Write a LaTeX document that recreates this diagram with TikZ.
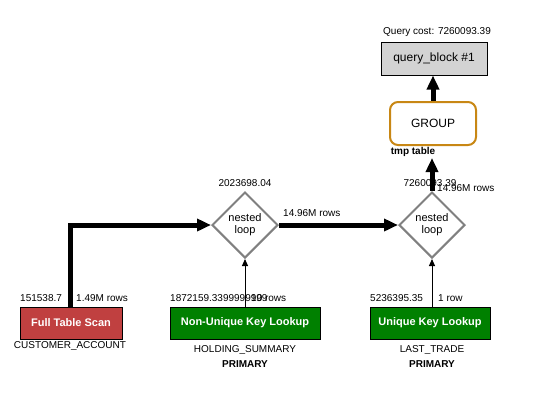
\documentclass[tikz,border=0pt]{standalone}
\usepackage{fontspec}
\setmainfont{Liberation Sans}
\usetikzlibrary{arrows.meta,shapes.geometric}
\definecolor{ftsred}{RGB}{192,64,64}
\definecolor{lkgreen}{RGB}{0,128,0}
\definecolor{qbgray}{RGB}{211,211,211}
\definecolor{grporange}{RGB}{200,135,20}
\definecolor{nlgray}{RGB}{128,128,128}
\tikzset{
  lbl/.style={font=\fontsize{10}{12}\selectfont, inner sep=0pt},
  opbox/.style={draw=black, line width=1pt, minimum height=32pt, text=white, font=\fontsize{11}{13}\selectfont\bfseries, inner sep=0pt},
  nlbox/.style={diamond, draw=nlgray, line width=2pt, fill=white, minimum width=66pt, minimum height=66pt, inner sep=0pt, align=center, font=\fontsize{11}{12}\selectfont},
  thickarr/.style={line width=5pt, -{Triangle[length=14pt,width=12pt]}},
  thinarr/.style={line width=1pt, -{Triangle[length=7pt,width=6pt]}},
}
\begin{document}
\begin{tikzpicture}[x=1pt,y=-1pt]
\useasboundingbox (0,0) rectangle (535,416);
% top
\node[lbl] (qcost) at (437,32) {Query cost: 7260093.39};
\node[draw=black, line width=1pt, fill=qbgray, minimum width=106pt, minimum height=33pt, inner sep=0pt, font=\fontsize{12}{14}\selectfont] (qb) at (434,58.5) {query\_block \#1};
\node[draw=grporange, line width=2pt, rounded corners=8pt, fill=white, minimum width=86pt, minimum height=43pt, inner sep=0pt, font=\fontsize{12}{14}\selectfont] (grp) at (433,123.5) {GROUP};
\node[lbl, font=\fontsize{10}{12}\selectfont\bfseries, anchor=base] (tmp) at (413,154) {tmp table};
\coordinate (tmpend) at (432,158);
% nested loops
\node[nlbox] (nl1) at (245,225) {nested\\loop};
\node[nlbox] (nl2) at (432,225) {nested\\loop};
\node[lbl] (c1) at (245,183) {2023698.04};
% bottom boxes
\node[opbox, fill=ftsred, minimum width=102pt] (fts) at (71,323) {Full Table Scan};
\node[opbox, fill=lkgreen, minimum width=150pt] (nuk) at (245,323) {Non-Unique Key Lookup};
\node[opbox, fill=lkgreen, minimum width=120pt] (uk) at (430,323) {Unique Key Lookup};
\node[lbl] (t1) at (70,346) {CUSTOMER\_ACCOUNT};
\node[lbl] (t2) at (245,350) {HOLDING\_SUMMARY};
\node[lbl, font=\fontsize{10}{12}\selectfont\bfseries] (p2) at (245,364) {PRIMARY};
\node[lbl] (t3) at (432,350) {LAST\_TRADE};
\node[lbl, font=\fontsize{10}{12}\selectfont\bfseries] (p3) at (432,364) {PRIMARY};
% connectors
\coordinate (bend) at (70,225);
\draw[thickarr] (fts.north -| bend) -- (bend) -- (nl1.west);
\draw[thickarr] (nl1.east) -- (nl2.west);
\draw[thickarr] (nl2.north) -- (tmpend);
\draw[thickarr] (grp.north) -- (qb.south -| grp.north);
\draw[thinarr] (nuk.north) -- (nl1.south);
\draw[thinarr] (uk.north -| nl2.south) -- (nl2.south);
% labels
\node[lbl, anchor=base west] (fc) at (20,301) {151538.7};
\node[lbl, anchor=base west] (fr) at (76,301) {1.49M rows};
\node[lbl, anchor=base west] (nc) at (170,301) {1872159.3399999999};
\node[lbl, anchor=base west] (nr) at (251,301) {10 rows};
\node[lbl, anchor=base west] (uc) at (370,301) {5236395.35};
\node[lbl, anchor=base west] (ur) at (438,301) {1 row};
\node[lbl, anchor=base west] (mr) at (283,216) {14.96M rows};
\node[lbl] (c2) at (430,183) {7260093.39};
\node[lbl, anchor=base west] (gr) at (437,191) {14.96M rows};
\end{tikzpicture}
\end{document}
